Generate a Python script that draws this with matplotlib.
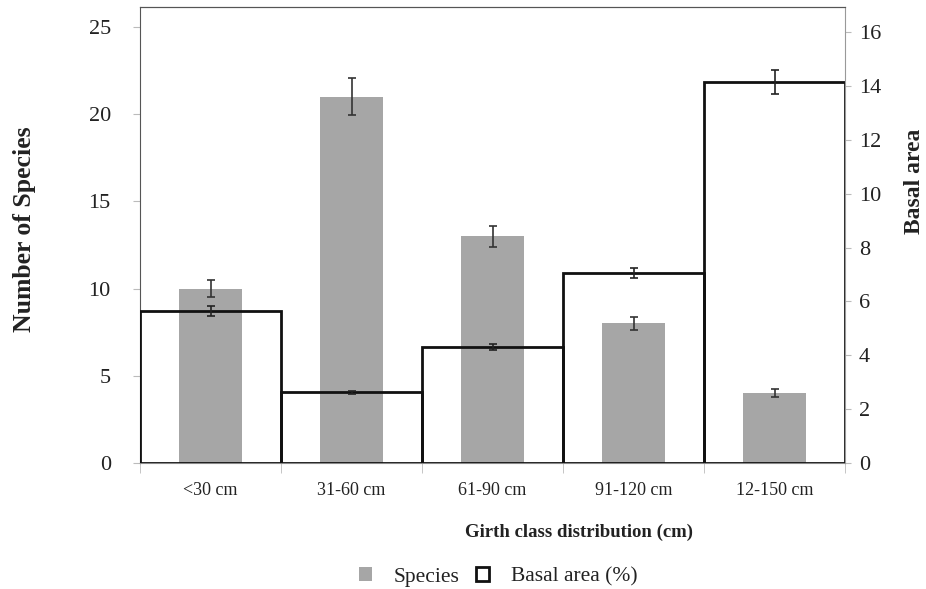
import numpy as np
import matplotlib
matplotlib.use('Agg')
import matplotlib.pyplot as plt
import matplotlib.patches as mpatches

plt.rcParams['font.family'] = ['Liberation Serif', 'DejaVu Serif']

# data
girth_classes = ['<30 cm', '31-60 cm', '61-90 cm', '91-120 cm', '12-150 cm']
species = [10, 21, 13, 8, 4]
species_err = [0.5, 1.05, 0.6, 0.4, 0.22]
basal_area = [5.64, 2.62, 4.3, 7.05, 14.15]
basal_err = [0.18, 0.05, 0.1, 0.18, 0.45]

x = np.arange(len(girth_classes))

fig = plt.figure(figsize=(9.26, 5.89), dpi=100)
ax = fig.add_axes([140/926, 1-463/589, 705/926, 456/589])
ax2 = ax.twinx()

# species bars (grey, narrow)
ax.bar(x, species, width=0.45, color='#a6a6a6', zorder=2)
ax.errorbar(x, species, yerr=species_err, fmt='none', ecolor='#333333',
            elinewidth=1.2, capsize=3, capthick=1.2, zorder=3)

# basal area as open full-width bars on the secondary axis
ax2.bar(x, basal_area, width=1.0, fill=False, edgecolor='#111111', linewidth=2, zorder=2)
ax2.errorbar(x, basal_area, yerr=basal_err, fmt='none', ecolor='#222222',
             elinewidth=1.2, capsize=3, capthick=1.2, zorder=3)

ax.set_xlim(-0.5, 4.5)
ax.set_ylim(0, 26.15)
ax2.set_ylim(0, 16.93)
ax.set_yticks(range(0, 26, 5))
ax2.set_yticks(range(0, 17, 2))

ax.set_xticks(x)
ax.set_xticklabels(girth_classes, fontsize=13, color='#222222')
ax.tick_params(axis='x', which='major', length=0, pad=14)
ax.set_xticks(np.arange(-0.5, 5, 1), minor=True)
ax.tick_params(axis='x', which='minor', length=7, color='#bbbbbb', direction='out')

ax.tick_params(axis='y', length=5, color='#bbbbbb', labelsize=16, labelcolor='#222222', pad=16)
ax2.tick_params(axis='y', length=4, color='#bbbbbb', labelsize=16, labelcolor='#222222', pad=6)

for sp in ['top', 'left']:
    ax.spines[sp].set_color('#555555')
ax.spines['bottom'].set_color('#888888')
ax.spines['right'].set_visible(False)
ax2.spines['right'].set_color('#999999')
ax2.spines['top'].set_color('#555555')
ax2.spines['left'].set_visible(False)
ax2.spines['bottom'].set_visible(False)

fig.text(25/926, 1-229/589, 'Number of Species', rotation=90, fontsize=18.5,
         fontweight='bold', ha='center', va='center', color='#222222')
fig.text(914/926, 1-181/589, 'Basal area', rotation=90, fontsize=17,
         fontweight='bold', ha='center', va='center', color='#222222')
fig.text(579/926, 1-532/589, 'Girth class distribution (cm)', fontsize=13.5,
         fontweight='bold', ha='center', va='center', color='#222222')

h1 = mpatches.Patch(facecolor='#a6a6a6', edgecolor='none', label='Species')
h2 = mpatches.Patch(facecolor='white', edgecolor='#111111', linewidth=2, label='Basal area (%)')
fig.legend(handles=[h1, h2], loc='center', bbox_to_anchor=(498/926, 1-577/589), ncol=2,
           frameon=False, fontsize=15.5, handlelength=0.6, handleheight=0.6,
           columnspacing=0.8, handletextpad=1.0, labelcolor='#222222')

fig.savefig('out.png', dpi=100)
